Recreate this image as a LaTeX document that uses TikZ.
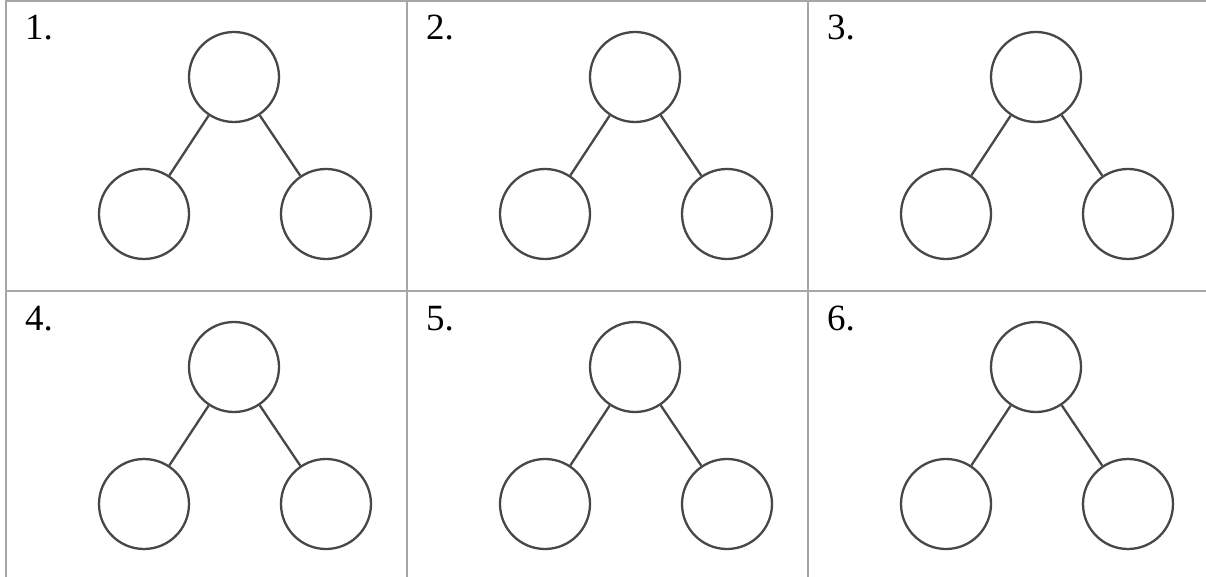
\documentclass[tikz,border=0pt]{standalone}
\usepackage{fontspec}
\setmainfont{Liberation Serif}
\begin{document}
\begin{tikzpicture}[x=1pt,y=1pt,
 cellline/.style={draw=black!35,line width=2pt},
 ball/.style={circle,draw=black!72,line width=2.3pt,minimum size=90pt,inner sep=0pt},
 stick/.style={draw=black!72,line width=2.3pt},
 num/.style={anchor=base west,inner sep=0pt,font=\fontsize{37}{40}\selectfont}]
 \useasboundingbox (0,0) rectangle (1206,576);
 \draw[cellline] (6,-5) rectangle (1209,575);
 \foreach \xs in {407,808}
  \draw[cellline] (\xs,-5) -- (\xs,575);
 \draw[cellline] (6,285) -- (1209,285);
 \foreach \n/\c/\r in {1/0/0,2/1/0,3/2/0,4/0/1,5/1/1,6/2/1} {
  \begin{scope}[shift={(6+401*\c,575-290*\r)}]
   \node[num] (lab\n) at (19,-39) {\n.};
   \node[ball] (top\n) at (228,-76) {};
   \node[ball] (left\n) at (138,-213) {};
   \node[ball] (right\n) at (320,-213) {};
   \draw[stick] (top\n) -- (left\n);
   \draw[stick] (top\n) -- (right\n);
  \end{scope}
 }
\end{tikzpicture}
\end{document}
